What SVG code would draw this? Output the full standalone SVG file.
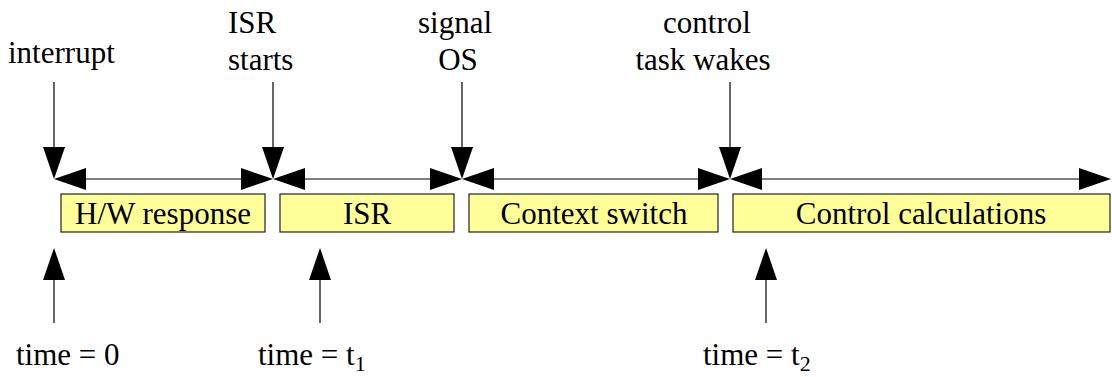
<svg xmlns="http://www.w3.org/2000/svg" width="1112" height="377" viewBox="0 0 1112 377">
  <style>
    text { font-family: "Liberation Serif", "Times New Roman", serif; font-size: 31px; fill: #000; }
    .mid { text-anchor: middle; }
    .box { fill: #ffff99; stroke: #222; stroke-width: 1.2; }
    .ln { stroke: #000; stroke-width: 1.2; fill: none; }
    .hd { fill: #000; stroke: none; }
    .sub { font-size: 22px; }
  </style>
  <defs>
    <!-- arrowheads with the tip at the origin -->
    <polygon id="headDown" points="0,0 -11,-32 11,-32"/>
    <polygon id="headUp" points="0,0 -11,32 11,32"/>
    <polygon id="headLeft" points="0,0 32,-11 32,11"/>
    <polygon id="headRight" points="0,0 -32,-11 -32,11"/>
  </defs>

  <g id="connectors">
    <!-- event markers from above -->
    <line class="ln" x1="54" y1="82" x2="54" y2="150"/>
    <use href="#headDown" class="hd" x="54" y="179"/>
    <line class="ln" x1="273" y1="82" x2="273" y2="150"/>
    <use href="#headDown" class="hd" x="273" y="179"/>
    <line class="ln" x1="462" y1="82" x2="462" y2="150"/>
    <use href="#headDown" class="hd" x="462" y="179"/>
    <line class="ln" x1="730" y1="82" x2="730" y2="150"/>
    <use href="#headDown" class="hd" x="730" y="179"/>

    <!-- timeline spans -->
    <line class="ln" x1="60" y1="179" x2="268" y2="179"/>
    <use href="#headLeft" class="hd" x="54" y="179"/>
    <use href="#headRight" class="hd" x="273" y="179"/>

    <line class="ln" x1="279" y1="179" x2="457" y2="179"/>
    <use href="#headLeft" class="hd" x="273" y="179"/>
    <use href="#headRight" class="hd" x="462" y="179"/>

    <line class="ln" x1="468" y1="179" x2="725" y2="179"/>
    <use href="#headLeft" class="hd" x="462" y="179"/>
    <use href="#headRight" class="hd" x="730" y="179"/>

    <line class="ln" x1="736" y1="179" x2="1105" y2="179"/>
    <use href="#headLeft" class="hd" x="730" y="179"/>
    <use href="#headRight" class="hd" x="1111" y="179"/>

    <!-- time markers from below -->
    <line class="ln" x1="54" y1="276" x2="54" y2="323"/>
    <use href="#headUp" class="hd" x="54" y="248"/>
    <line class="ln" x1="320" y1="276" x2="320" y2="323"/>
    <use href="#headUp" class="hd" x="320" y="248"/>
    <line class="ln" x1="766" y1="276" x2="766" y2="323"/>
    <use href="#headUp" class="hd" x="766" y="248"/>
  </g>

  <g id="hw-response">
    <rect class="box" x="61" y="194" width="204" height="38"/>
    <text class="mid" x="163" y="224">H/W response</text>
  </g>
  <g id="isr">
    <rect class="box" x="280" y="194" width="174" height="38"/>
    <text class="mid" x="367" y="224">ISR</text>
  </g>
  <g id="context-switch">
    <rect class="box" x="469" y="194" width="249" height="38"/>
    <text class="mid" x="594" y="224">Context switch</text>
  </g>
  <g id="control-calculations">
    <rect class="box" x="733" y="194" width="377" height="38"/>
    <text class="mid" x="921" y="224">Control calculations</text>
  </g>

  <g id="label-interrupt">
    <text x="8" y="63">interrupt</text>
  </g>
  <g id="label-isr-starts">
    <text x="228" y="33">ISR</text>
    <text x="228" y="70">starts</text>
  </g>
  <g id="label-signal-os">
    <text class="mid" x="455" y="33">signal</text>
    <text class="mid" x="458" y="70">OS</text>
  </g>
  <g id="label-task-wakes">
    <text class="mid" x="707" y="33">control</text>
    <text class="mid" x="703" y="70">task wakes</text>
  </g>

  <g id="label-time-0">
    <text x="16" y="365">time = 0</text>
  </g>
  <g id="label-time-t1">
    <text x="258" y="365">time = t<tspan class="sub" dy="6">1</tspan></text>
  </g>
  <g id="label-time-t2">
    <text x="703" y="365">time = t<tspan class="sub" dy="6">2</tspan></text>
  </g>
</svg>
